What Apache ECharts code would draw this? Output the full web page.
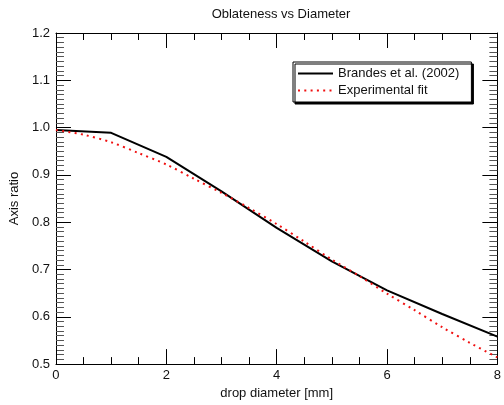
<!DOCTYPE html>
<html>
<head>
<meta charset="utf-8">
<script src="https://cdn.jsdelivr.net/npm/echarts@6/dist/echarts.min.js"></script>
<style>
  html, body { margin: 0; padding: 0; background: #fff; }
  #main { width: 504px; height: 405px; }
</style>
</head>
<body>
<div id="main"></div>
<script>
// 数据
var brandesD = [0, 1, 2, 3, 4, 5, 6, 7, 8];
var brandesR = [0.995, 0.989, 0.938, 0.865, 0.788, 0.717, 0.656, 0.606, 0.558];
var fitD = [0, 0.5, 1, 1.5, 2, 2.5, 3, 3.5, 4, 4.5, 5, 5.5, 6, 6.5, 7, 7.5, 8];
var fitR = [0.995, 0.985, 0.969, 0.946, 0.922, 0.892, 0.862, 0.830, 0.796, 0.759, 0.721, 0.686, 0.649, 0.614, 0.578, 0.545, 0.514];
var seriesNames = ['Brandes et al. (2002)', 'Experimental fit'];

function pairs(xs, ys) {
    return xs.map(function (x, i) { return [x, ys[i]]; });
}

var font = 'Liberation Sans';
var myChart = echarts.init(document.getElementById('main'));

// 四边都有刻度
function xAx(pos, showLabel) {
    return {
        type: 'value', position: pos, min: 0, max: 8, interval: 2,
        name: showLabel ? 'drop diameter [mm]' : '',
        nameLocation: 'middle', nameGap: 16,
        nameTextStyle: { fontFamily: font, fontSize: 13, color: '#111' },
        axisLine: { show: true, onZero: false, lineStyle: { color: '#000', width: 1 } },
        axisTick: { show: true, inside: true, length: 15, lineStyle: { color: '#000' } },
        minorTick: { show: true, splitNumber: 4, length: 7, lineStyle: { color: '#000' } },
        axisLabel: { show: showLabel, margin: 5, fontFamily: font, fontSize: 13, color: '#111' },
        splitLine: { show: false }
    };
}
function yAx(pos, showLabel) {
    return {
        type: 'value', position: pos, min: 0.5, max: 1.2, interval: 0.1,
        name: showLabel ? 'Axis ratio' : '',
        nameLocation: 'middle', nameGap: 28,
        nameTextStyle: { fontFamily: font, fontSize: 13, color: '#111' },
        axisLine: { show: true, onZero: false, lineStyle: { color: '#000', width: 1 } },
        axisTick: { show: true, inside: true, length: 15, lineStyle: { color: '#000' } },
        minorTick: { show: true, splitNumber: 10, length: 8, lineStyle: { color: '#555' } },
        axisLabel: {
            show: showLabel, margin: 6, fontFamily: font, fontSize: 13, color: '#111',
            formatter: function (v) { return v.toFixed(1); }
        },
        splitLine: { show: false }
    };
}

var option = {
    animation: false,
    backgroundColor: '#fff',
    title: {
        text: 'Oblateness vs Diameter',
        left: 276, top: 3, textAlign: 'center',
        textStyle: { fontFamily: font, fontSize: 13, fontWeight: 'normal', color: '#111' }
    },
    legend: {
        orient: 'vertical',
        left: 293, top: 62,
        padding: [5, 12, 5, 4],
        itemGap: 4, itemWidth: 35, itemHeight: 10,
        backgroundColor: '#fff',
        borderColor: '#000', borderWidth: 1,
        shadowColor: '#000', shadowBlur: 0, shadowOffsetX: 2, shadowOffsetY: 2,
        itemStyle: { opacity: 0 },   // 图例只画线, 不画圆点
        textStyle: { fontFamily: font, fontSize: 13, color: '#111' },
        data: seriesNames
    },
    grid: { left: 53, right: 5, top: 33, bottom: 38 },
    xAxis: [xAx('bottom', true), xAx('top', false)],
    yAxis: [yAx('left', true), yAx('right', false)],
    series: [
        {
            name: seriesNames[0], type: 'line', symbol: 'none',
            lineStyle: { color: '#000', width: 2 },
            itemStyle: { color: '#000' },
            data: pairs(brandesD, brandesR), z: 3
        },
        {
            name: seriesNames[1], type: 'line', symbol: 'none', smooth: 0.3,
            lineStyle: { color: '#f01010', width: 2, type: [2, 4.3] },
            itemStyle: { color: '#f01010' },
            data: pairs(fitD, fitR), z: 4
        }
    ]
};
myChart.setOption(option);
</script>
</body>
</html>
